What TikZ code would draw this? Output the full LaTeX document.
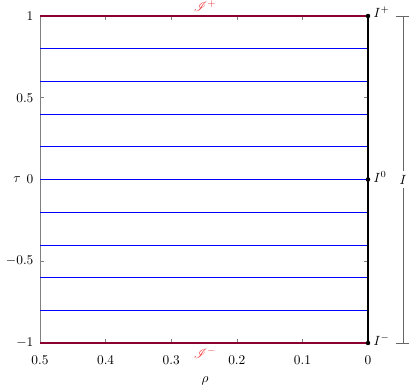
\documentclass[tikz,border=0pt]{standalone}
\usepackage{amsmath}
\usepackage{mathrsfs}
\definecolor{scri}{RGB}{140,0,45}
\definecolor{scrilab}{RGB}{240,60,60}
\begin{document}
\begin{tikzpicture}[x=0.75pt,y=0.75pt,
  foli/.style={blue,line width=0.5pt},
  scriline/.style={scri,line width=2pt},
  axisline/.style={gray,line width=0.4pt},
  tickmark/.style={gray,line width=0.4pt},
  ticklab/.style={inner sep=1pt},
  dot/.style={circle,fill=black,inner sep=0pt,minimum size=3.2pt},
  ilab/.style={anchor=west,inner sep=1pt}]
\useasboundingbox (0,0) rectangle (409,390);
% axes
\draw[axisline] (40,47) -- (40,374);
% ticks
\foreach \r in {0.4,0.3,0.2,0.1}{
  \draw[tickmark] ({368-656*\r},47) -- ++(0,3.8);
  \draw[tickmark] ({368-656*\r},374) -- ++(0,-3.8);
}
\foreach \t in {0.5,0,-0.5}{
  \draw[tickmark] (40,{210.5+163.5*\t}) -- ++(3.8,0);
  \draw[tickmark] (368,{210.5+163.5*\t}) -- ++(-3.8,0);
}
% foliation lines
\foreach \t in {0.8,0.6,0.4,0.2,0,-0.2,-0.4,-0.6,-0.8}{
  \draw[foli] (40,{210.5+163.5*\t}) -- (368,{210.5+163.5*\t});
}
% nodes
\node[dot] (Ip) at (368,374) {};
\node[dot] (I0) at (368,210.5) {};
\node[dot] (Im) at (368,47) {};
\coordinate (Lp) at (40,374);
\coordinate (Lm) at (40,47);
\draw[scriline] (Lp) -- (Ip.center);
\draw[scriline] (Lm) -- (Im.center);
\draw[black,line width=1.3pt] (Im.center) -- (Ip.center);
\node[dot] at (Ip) {};
\node[dot] at (I0) {};
\node[dot] at (Im) {};
% labels
\node[ilab] (lIp) at (372,378) {$I^{+}$};
\node[ilab] (lI0) at (372,213) {$I^{0}$};
\node[ilab] (lIm) at (372,50) {$I^{-}$};
\node[text=scrilab] (scrip) at (205,384) {$\mathscr{I}^{+}$};
\node[text=scrilab] (scrim) at (205,37) {$\mathscr{I}^{-}$};
% tick labels
\node[ticklab,anchor=east] (y1) at (35,374) {$1$};
\node[ticklab,anchor=east] (y05) at (35,292.25) {$0.5$};
\node[ticklab,anchor=east] (y0) at (35,210.5) {$0$};
\node[ticklab,anchor=east] (ym05) at (35,128.75) {$-0.5$};
\node[ticklab,anchor=east] (ym1) at (35,47) {$-1$};
\foreach \r/\n in {0.5/a,0.4/b,0.3/c,0.2/d,0.1/e,0/f}{
  \node[ticklab] (x\n) at ({368-656*\r},30) {$\r$};
}
\node (tau) at (17,210.5) {$\tau$};
\node (rho) at (205,9) {$\rho$};
% bracket I
\node[inner sep=1pt] (Ib) at (403,210.5) {$I$};
\coordinate (Bt) at (403,374);
\coordinate (Bb) at (403,47);
\draw[gray!80!black,line width=0.5pt] (Bt) -- ([yshift=2]Ib.north);
\draw[gray!80!black,line width=0.5pt] (Bb) -- ([yshift=-2]Ib.south);
\draw[gray!80!black,line width=0.5pt] ([xshift=-5.5]Bt) -- ([xshift=5.5]Bt);
\draw[gray!80!black,line width=0.5pt] ([xshift=-5.5]Bb) -- ([xshift=5.5]Bb);
\end{tikzpicture}
\end{document}
